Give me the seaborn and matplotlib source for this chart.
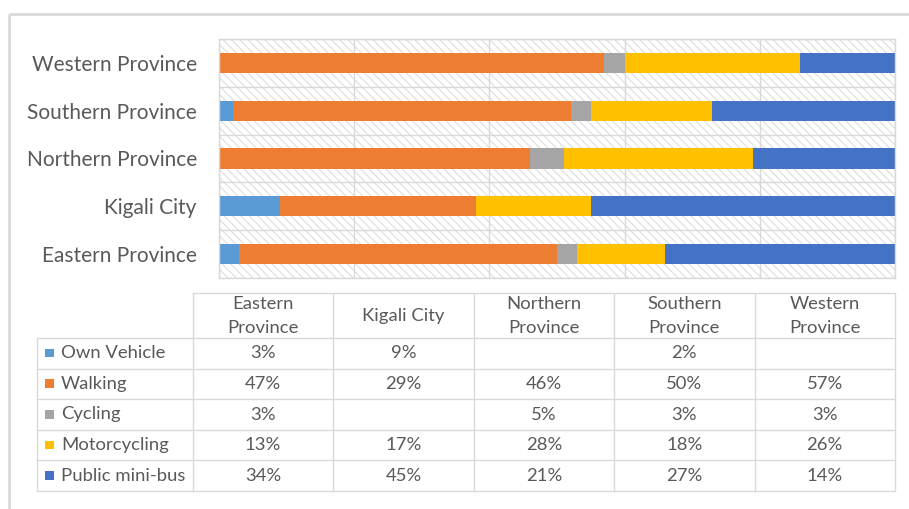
import numpy as np
import pandas as pd
import matplotlib
matplotlib.use("Agg")
import matplotlib.pyplot as plt
from matplotlib.patches import Rectangle
import seaborn as sns

# ---- data ----
regions = ["Eastern Province", "Kigali City", "Northern Province", "Southern Province", "Western Province"]
header_labels = ["Eastern\nProvince", "Kigali City", "Northern\nProvince", "Southern\nProvince", "Western\nProvince"]
modes = ["Own Vehicle", "Walking", "Cycling", "Motorcycling", "Public mini-bus"]
own_vehicle = [3, 9, None, 2, None]
walking = [47, 29, 46, 50, 57]
cycling = [3, None, 5, 3, 3]
motorcycling = [13, 17, 28, 18, 26]
public_minibus = [34, 45, 21, 27, 14]
colors = ["#5B9BD5", "#ED7D31", "#A5A5A5", "#FFC000", "#4472C4"]

series = [own_vehicle, walking, cycling, motorcycling, public_minibus]

sns.set_theme(style="white")
plt.rcParams["font.family"] = ["Lato", "DejaVu Sans"]
plt.rcParams["hatch.linewidth"] = 0.9
TXT = "#595959"
GRID = "#D9D9D9"

W, H = 909, 509
fig = plt.figure(figsize=(W / 100, H / 100), dpi=100)

def fx(px):
    return px / W

def fy(py):
    return 1 - py / H

# ---- bar chart ----
px_l, px_r, px_t, px_b = 219, 895, 39, 278
ax = fig.add_axes([fx(px_l), fy(px_b), (px_r - px_l) / W, (px_b - px_t) / H])

vals = np.array([[0 if v is None else v for v in s] for s in series], dtype=float)
cum = np.cumsum(vals, axis=0)
order = regions[::-1]

for i in range(len(modes) - 1, -1, -1):
    df = pd.DataFrame({"region": regions, "value": cum[i]})
    sns.barplot(data=df, x="value", y="region", order=order, orient="h",
                color=colors[i], saturation=1, width=0.42, linewidth=0, ax=ax)

ax.set_xlim(0, 100)
ax.set_ylim(len(regions) - 0.5, -0.5)
ax.set_xlabel("")
ax.set_ylabel("")
ax.set_xticks(np.arange(0, 101, 20))
ax.set_xticklabels([])
ax.set_axisbelow(True)
ax.grid(axis="x", color=GRID, linewidth=1)
ax.grid(axis="y", visible=False)
for b in np.arange(-0.5, len(regions), 1.0):
    ax.axhline(b, color=GRID, linewidth=1, zorder=0.5)
ax.add_patch(Rectangle((0, 0), 1, 1, transform=ax.transAxes, facecolor="white",
                       edgecolor="#E0E0E0", hatch="\\\\\\\\", linewidth=0, zorder=0))
for sp in ax.spines.values():
    sp.set_color(GRID)
    sp.set_linewidth(1)
ax.tick_params(axis="both", length=0)
ax.tick_params(axis="y", pad=16, labelsize=15, labelcolor=TXT)

# ---- table & frame ----
tax = fig.add_axes([0, 0, 1, 1])
tax.set_xlim(0, W)
tax.set_ylim(H, 0)
tax.axis("off")

# outer frame (left & top)
tax.plot([9, 9], [H, 14], color=GRID, lw=2, solid_capstyle="butt")
tax.plot([9, W], [14, 14], color=GRID, lw=2, solid_capstyle="butt")

lab_l, dat_l, tab_r = 37, 193, 895
head_t, head_b, tab_b = 293, 338, 491
ncol = len(regions)
col_w = (tab_r - dat_l) / ncol
row_h = (tab_b - head_b) / len(modes)
lc = dict(color=GRID, lw=1)

# header
tax.plot([dat_l, tab_r], [head_t, head_t], **lc)
for j in range(ncol + 1):
    x = dat_l + j * col_w
    tax.plot([x, x], [head_t, tab_b], **lc)
tax.plot([lab_l, lab_l], [head_b, tab_b], **lc)
for r in range(len(modes) + 1):
    y = head_b + r * row_h
    tax.plot([lab_l, tab_r], [y, y], **lc)

FS = 13.3
for j, lab in enumerate(header_labels):
    tax.text(dat_l + (j + 0.5) * col_w, (head_t + head_b) / 2 + 0.5, lab, ha="center", va="center",
             fontsize=FS, color=TXT, linespacing=1.6)

for r, (m, s, c) in enumerate(zip(modes, series, colors)):
    yc = head_b + (r + 0.5) * row_h
    tax.add_patch(Rectangle((45, yc - 4.5), 8.5, 8.5, facecolor=c, edgecolor="none"))
    tax.text(61, yc, m, ha="left", va="center", fontsize=FS, color=TXT)
    for j, v in enumerate(s):
        if v is not None:
            tax.text(dat_l + (j + 0.5) * col_w, yc, f"{v}%", ha="center", va="center",
                     fontsize=FS, color=TXT)

fig.savefig("out.png", dpi=100)
